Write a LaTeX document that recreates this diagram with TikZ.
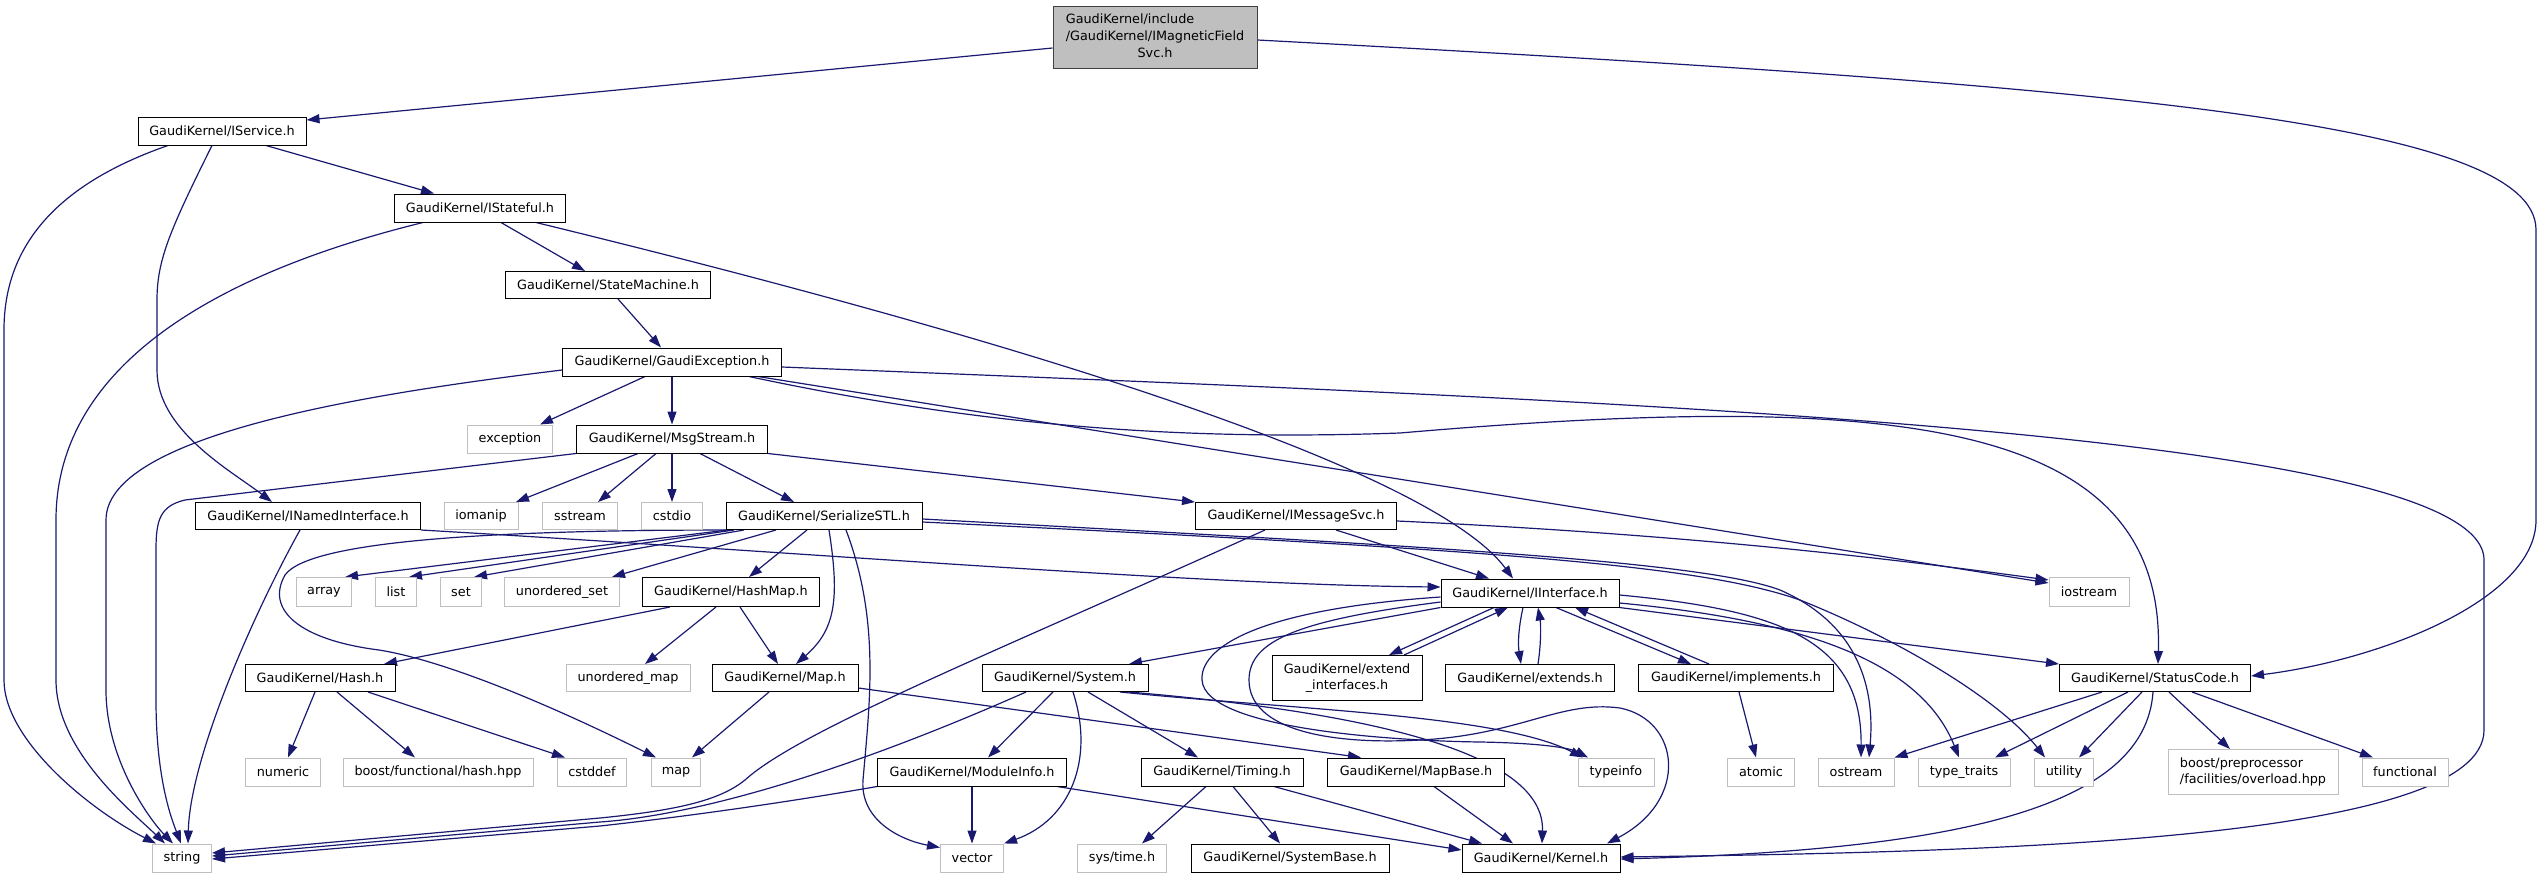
\documentclass[tikz,border=0pt]{standalone}
\usepackage{fontspec}
\setmainfont{DejaVu Sans}
\usetikzlibrary{arrows.meta,backgrounds}
\definecolor{edgec}{HTML}{191970}
\definecolor{extc}{HTML}{BFBFBF}
\tikzset{
 box/.style={rectangle, inner sep=1pt, font=\fontsize{12.8}{16.7}\selectfont, fill=white, line width=1pt},
 doc/.style={box, draw=black},
 ext/.style={box, draw=extc},
 mainnode/.style={box, draw=black!75, fill=extc},
 sz/.style 2 args={minimum width=#1pt, minimum height=#2pt},
 e/.style={draw=edgec, line width=1.2pt, -{Triangle[length=13pt,width=9pt]}},
}
\begin{document}
\begin{tikzpicture}[x=1pt,y=-1pt]
\useasboundingbox (0,0) rectangle (2541,878);
% nodes
\node[mainnode, sz={204}{62}] (main) at (1155,37) {\begin{tabular}{@{}l@{}}GaudiKernel/include\\/GaudiKernel/IMagneticField\\\multicolumn{1}{@{}c@{}}{Svc.h}\end{tabular}};
\node[doc, sz={168}{28}] (iservice) at (222,131) {GaudiKernel/IService.h};
\node[doc, sz={171}{28}] (istateful) at (480,208) {GaudiKernel/IStateful.h};
\node[doc, sz={205}{27}] (statemachine) at (608,285) {GaudiKernel/StateMachine.h};
\node[doc, sz={219}{28}] (gaudiexc) at (672,362) {GaudiKernel/GaudiException.h};
\node[ext, sz={85}{28}] (exception) at (510,439) {exception};
\node[doc, sz={191}{28}] (msgstream) at (672,439) {GaudiKernel/MsgStream.h};
\node[doc, sz={225}{27}] (nnamed) at (308,516) {GaudiKernel/INamedInterface.h};
\node[ext, sz={74}{27}] (iomanip) at (481,516) {iomanip};
\node[ext, sz={75}{27}] (sstream) at (580,516) {sstream};
\node[ext, sz={61}{27}] (cstdio) at (672,516) {cstdio};
\node[doc, sz={196}{27}] (serialize) at (824,516) {GaudiKernel/SerializeSTL.h};
\node[doc, sz={201}{27}] (imsg) at (1296,516) {GaudiKernel/IMessageSvc.h};
\node[doc, sz={178}{28}] (iinterface) at (1530,593) {GaudiKernel/IInterface.h};
\node[ext, sz={80}{29}] (iostream) at (2089,592) {iostream};
\node[ext, sz={55}{29}] (array) at (324,592) {array};
\node[ext, sz={41}{29}] (list) at (396,592) {list};
\node[ext, sz={41}{29}] (set) at (461,592) {set};
\node[ext, sz={115}{29}] (uset) at (562,592) {unordered\_set};
\node[doc, sz={177}{29}] (hashmap) at (731,592) {GaudiKernel/HashMap.h};
\node[doc, sz={150}{27}] (hash) at (320,678) {GaudiKernel/Hash.h};
\node[ext, sz={124}{27}] (umap) at (628,678) {unordered\_map};
\node[doc, sz={146}{27}] (mapH) at (785,678) {GaudiKernel/Map.h};
\node[doc, sz={166}{27}] (system) at (1065,678) {GaudiKernel/System.h};
\node[doc, sz={150}{45}, align=center] (extendi) at (1347,678) {GaudiKernel/extend\\\_interfaces.h};
\node[doc, sz={169}{27}] (extends) at (1530,678) {GaudiKernel/extends.h};
\node[doc, sz={195}{27}] (implements) at (1736,678) {GaudiKernel/implements.h};
\node[doc, sz={191}{27}] (statuscode) at (2155,678) {GaudiKernel/StatusCode.h};
\node[ext, sz={75}{28}] (numeric) at (283,772) {numeric};
\node[ext, sz={190}{28}] (boosthash) at (438,772) {boost/functional/hash.hpp};
\node[ext, sz={69}{28}] (cstddef) at (592,772) {cstddef};
\node[ext, sz={49}{28}] (map) at (676,772) {map};
\node[doc, sz={189}{28}] (moduleinfo) at (972,772) {GaudiKernel/ModuleInfo.h};
\node[doc, sz={162}{28}] (timing) at (1222,772) {GaudiKernel/Timing.h};
\node[doc, sz={177}{28}] (mapbase) at (1416,772) {GaudiKernel/MapBase.h};
\node[ext, sz={76}{28}] (typeinfo) at (1616,772) {typeinfo};
\node[ext, sz={67}{28}] (atomic) at (1761,772) {atomic};
\node[ext, sz={76}{28}] (ostream) at (1856,772) {ostream};
\node[ext, sz={92}{28}] (typetraits) at (1964,772) {type\_traits};
\node[ext, sz={59}{28}] (utility) at (2064,772) {utility};
\node[ext, sz={170}{45}, align=left] (boostpp) at (2253,772) {boost/preprocessor\\/facilities/overload.hpp};
\node[ext, sz={86}{28}] (functional) at (2405,772) {functional};
\node[ext, sz={59}{28}] (string) at (182,858) {string};
\node[ext, sz={63}{28}] (vector) at (972,858) {vector};
\node[ext, sz={89}{28}] (systime) at (1122,858) {sys/time.h};
\node[doc, sz={198}{28}] (systembase) at (1290,858) {GaudiKernel/SystemBase.h};
\node[doc, sz={158}{28}] (kernel) at (1541,858) {GaudiKernel/Kernel.h};
% edges
\begin{pgfonlayer}{background}
\draw[e] ([yshift=-11pt]main.west) -- ([yshift=11pt]iservice.east);
\draw[e] ([yshift=-3pt]main.east) .. controls (2100,85) and (2536,120) .. (2536,230) -- (2536,520) .. controls (2536,600) and (2380,660) .. ([yshift=2pt]statuscode.east);
\draw[e] ([xshift=44pt]iservice.south) -- ([xshift=-46pt]istateful.north);
\draw[e] ([xshift=-54pt]iservice.south) .. controls (40,190) and (4,260) .. (4,330) -- (4,680) .. controls (4,740) and (90,810) .. ([xshift=-26pt]string.north);
\draw[e] ([xshift=-10pt]iservice.south) .. controls (170,230) and (157,260) .. (157,300) -- (157,370) .. controls (157,430) and (230,470) .. ([xshift=-36pt]nnamed.north);
\draw[e] ([xshift=21pt]istateful.south) -- ([xshift=-23pt]statemachine.north);
\draw[e] ([xshift=-57pt]istateful.south) .. controls (250,265) and (56,350) .. (56,520) -- (56,680) .. controls (56,750) and (130,810) .. ([xshift=-17pt]string.north);
\draw[e] ([xshift=56pt]istateful.south) .. controls (1100,360) and (1440,480) .. ([xshift=-17pt]iinterface.north);
\draw[e] ([xshift=10pt]statemachine.south) -- ([xshift=-11pt]gaudiexc.north);
\draw[e] ([xshift=-27pt]gaudiexc.south) -- ([xshift=30pt]exception.north);
\draw[e] (gaudiexc.south) -- (msgstream.north);
\draw[e] ([yshift=-8pt]gaudiexc.west) .. controls (400,390) and (106,430) .. (106,520) -- (106,690) .. controls (106,760) and (150,820) .. ([xshift=-9pt]string.north);
\draw[e] ([yshift=-5pt]gaudiexc.east) .. controls (1600,400) and (2484,430) .. (2484,560) -- (2484,730) .. controls (2484,840) and (2000,852) .. ([yshift=1pt]kernel.east);
\draw[e] ([xshift=77pt]gaudiexc.south) .. controls (1000,430) and (1200,440) .. (1400,433) .. controls (1900,390) and (2165,420) .. ([xshift=3pt]statuscode.north);
\draw[e] ([xshift=86pt]gaudiexc.south) -- ([yshift=9pt]iostream.west);
\draw[e] (msgstream.south west) -- (185,500) .. controls (160,506) and (156,520) .. (156,550) -- (156,700) .. controls (156,780) and (172,820) .. ([xshift=-1pt]string.north);
\draw[e] ([xshift=-34pt]msgstream.south) -- ([xshift=35pt]iomanip.north);
\draw[e] ([xshift=-16pt]msgstream.south) -- ([xshift=18pt]sstream.north);
\draw[e] (msgstream.south) -- (cstdio.north);
\draw[e] ([xshift=28pt]msgstream.south) -- ([xshift=-30pt]serialize.north);
\draw[e] (msgstream.south east) -- (imsg.north west);
\draw[e] ([xshift=-8pt]nnamed.south) .. controls (250,620) and (190,760) .. ([xshift=6pt]string.north);
\draw[e] (nnamed.south east) .. controls (800,552) and (1200,585) .. ([yshift=6pt]iinterface.west);
\draw[e] ([xshift=2pt]serialize.south west) -- ([xshift=21pt]array.north);
\draw[e] ([xshift=-90pt]serialize.south) -- ([xshift=13pt]list.north);
\draw[e] ([xshift=-80pt]serialize.south) -- ([xshift=13pt]set.north);
\draw[e] ([xshift=-48pt]serialize.south) -- ([xshift=50pt]uset.north);
\draw[e] ([xshift=4pt]serialize.south west) .. controls (500,530) and (310,540) .. (285,575) .. controls (265,610) and (300,640) .. (379,650) .. controls (430,658) and (520,690) .. ([xshift=-20pt]map.north);
\draw[e] ([xshift=-17pt]serialize.south) -- ([xshift=18pt]hashmap.north);
\draw[e] ([xshift=5pt]serialize.south) .. controls (840,600) and (835,630) .. ([xshift=11pt]mapH.north);
\draw[e] ([xshift=22pt]serialize.south) .. controls (880,620) and (870,700) .. (863,780) .. controls (860,820) and (900,840) .. ([yshift=-4pt]vector.north west);
\draw[e] ([yshift=-3pt]serialize.east) .. controls (1400,545) and (1700,560) .. (1780,590) .. controls (1860,625) and (1875,690) .. ([xshift=13pt]ostream.north);
\draw[e] ([yshift=-6pt]serialize.east) .. controls (1500,550) and (1700,565) .. (1800,600) .. controls (1900,640) and (2000,700) .. ([xshift=-19pt]utility.north);
\draw[e] ([xshift=-61pt]hashmap.south) -- ([xshift=64pt]hash.north);
\draw[e] ([xshift=-15pt]hashmap.south) -- ([xshift=17pt]umap.north);
\draw[e] ([xshift=9pt]hashmap.south) -- ([xshift=-7pt]mapH.north);
\draw[e] ([xshift=-5pt]hash.south) -- ([xshift=5pt]numeric.north);
\draw[e] ([xshift=17pt]hash.south) -- ([xshift=-23pt]boosthash.north);
\draw[e] ([xshift=48pt]hash.south) -- ([xshift=-27pt]cstddef.north);
\draw[e] ([xshift=-16pt]mapH.south) -- ([xshift=16pt]map.north);
\draw[e] ([yshift=-10pt]mapH.east) -- ([xshift=-55pt]mapbase.north);
\draw[e] ([xshift=18pt]mapbase.south) -- ([xshift=-28pt]kernel.north);
\draw[e] ([xshift=40pt]imsg.south) -- ([xshift=-41pt]iinterface.north);
\draw[e] ([xshift=-31pt]imsg.south) .. controls (1000,650) and (800,730) .. (745,780) .. controls (720,800) and (680,810) .. (600,818) -- ([yshift=5pt]string.east);
\draw[e] ([xshift=-39pt]system.south) .. controls (850,770) and (700,815) .. (600,822) -- ([yshift=2pt]string.east);
\draw[e] (moduleinfo.south west) .. controls (800,800) and (700,815) .. (600,826) -- ([yshift=-1pt]string.east);
\draw[e] ([yshift=-5pt]imsg.east) .. controls (1700,535) and (1900,560) .. ([yshift=12pt]iostream.west);
\draw[e] (iinterface.south west) -- ([xshift=64pt]system.north);
\draw[e] ([xshift=-36pt]iinterface.south) -- ([xshift=42pt]extendi.north);
\draw[e] ([xshift=57pt]extendi.north) -- ([xshift=-22pt]iinterface.south);
\draw[e] ([xshift=-7pt]iinterface.south) .. controls (1518,630) and (1518,645) .. ([xshift=-9pt]extends.north);
\draw[e] ([xshift=8pt]extends.north) .. controls (1541,645) and (1541,625) .. ([xshift=8pt]iinterface.south);
\draw[e] ([xshift=26pt]iinterface.south) -- ([xshift=-45pt]implements.north);
\draw[e] ([xshift=-27pt]implements.north) -- ([xshift=45pt]iinterface.south);
\draw[e] ([xshift=3pt]implements.south) -- ([xshift=-5pt]atomic.north);
\draw[e] (iinterface.south east) -- (statuscode.north west);
\draw[e] ([yshift=-2pt]iinterface.east) .. controls (1780,610) and (1862,640) .. ([xshift=5pt]ostream.north);
\draw[e] ([yshift=-10pt]iinterface.east) .. controls (1800,620) and (1920,660) .. ([xshift=-5pt]typetraits.north);
\draw[e] ([yshift=-4pt]iinterface.west) .. controls (1250,610) and (1200,650) .. (1202,680) .. controls (1205,730) and (1400,741) .. (1480,742) .. controls (1540,743) and (1570,748) .. ([xshift=-28pt]typeinfo.north);
\draw[e] ([yshift=-9pt]iinterface.west) .. controls (1300,620) and (1249,640) .. (1249,680) .. controls (1249,730) and (1330,745) .. (1420,740) .. controls (1520,735) and (1560,700) .. (1620,708) .. controls (1680,720) and (1690,800) .. ([xshift=66pt]kernel.north);
\draw[e] ([xshift=55pt]system.south) .. controls (1300,710) and (1500,715) .. ([xshift=-33pt]typeinfo.north);
\draw[e] ([xshift=64pt]system.south) .. controls (1400,715) and (1545,760) .. ([xshift=1pt]kernel.north);
\draw[e] ([xshift=-12pt]system.south) -- ([xshift=16pt]moduleinfo.north);
\draw[e] ([xshift=8pt]system.south) .. controls (1095,760) and (1070,820) .. (vector.north east);
\draw[e] ([xshift=23pt]system.south) -- ([xshift=-24pt]timing.north);
\draw[e] (moduleinfo.south) -- (vector.north);
\draw[e] ([xshift=85pt]moduleinfo.south) -- ([yshift=8pt]kernel.west);
\draw[e] ([xshift=-16pt]timing.south) -- ([xshift=20pt]systime.north);
\draw[e] ([xshift=11pt]timing.south) -- ([xshift=-10pt]systembase.north);
\draw[e] ([xshift=52pt]timing.south) -- ([xshift=-59pt]kernel.north);
\draw[e] ([xshift=-2pt]statuscode.south) .. controls (2145,810) and (1950,850) .. ([yshift=-1pt]kernel.east);
\draw[e] ([xshift=-53pt]statuscode.south) -- (ostream.north east);
\draw[e] ([xshift=-27pt]statuscode.south) -- ([xshift=31pt]typetraits.north);
\draw[e] ([xshift=-13pt]statuscode.south) -- ([xshift=15pt]utility.north);
\draw[e] ([xshift=14pt]statuscode.south) -- ([xshift=-23pt]boostpp.north);
\draw[e] ([xshift=37pt]statuscode.south) -- ([xshift=-32pt]functional.north);
\end{pgfonlayer}
\end{tikzpicture}
\end{document}
